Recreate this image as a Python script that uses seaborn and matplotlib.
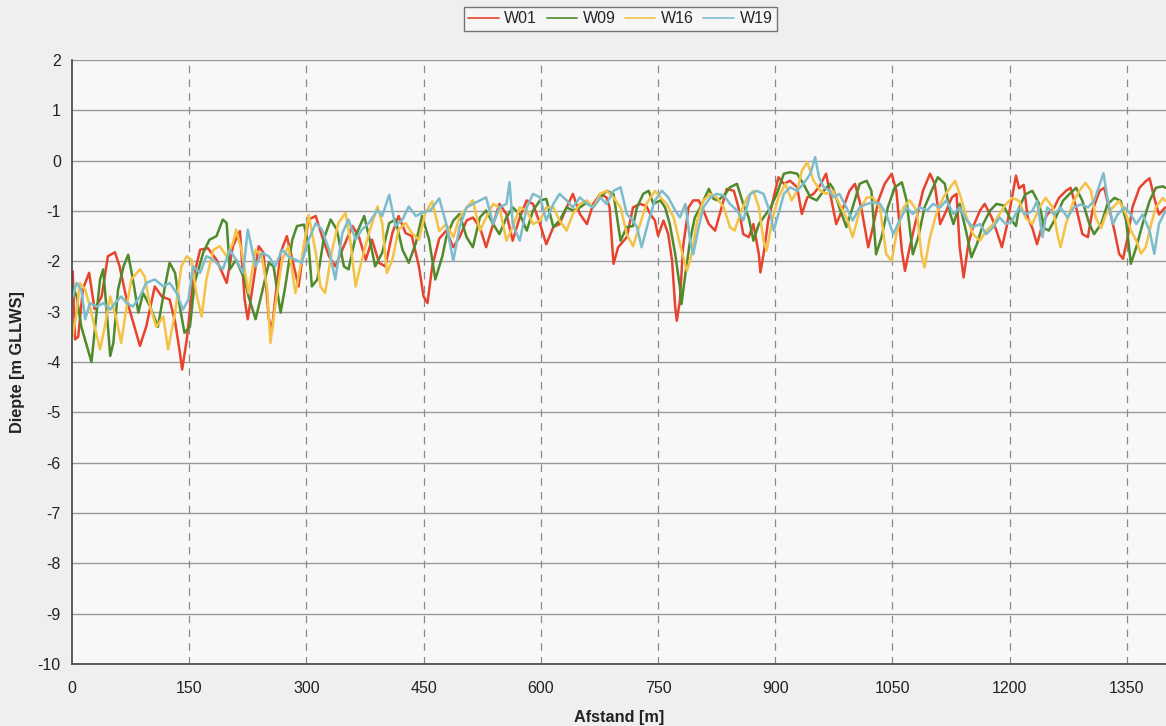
import matplotlib
matplotlib.use("Agg")
import matplotlib.pyplot as plt
import seaborn as sns
import pandas as pd

# ---- data ----
W01_x = [1,4,8,14,22,29,38,46,55,61,70,80,87,95,106,115,125,132,138,141,147,155,164,174,185,198,206,215,221,225,
         239,245,252,256,260,267,275,284,290,297,303,312,320,329,337,346,359,367,376,384,393,401,410,418,427,435,444,450,455,461,470,
         479,488,496,505,513,522,530,539,547,556,564,573,582,590,599,607,616,624,633,641,650,659,667,676,684,688,693,699,710,
         718,727,735,740,746,750,757,763,768,772,774,778,782,789,795,802,808,815,823,829,838,847,853,859,866,872,879,881,885,891,898,904,911,919,928,934,941,949,
         957,965,972,978,987,995,1002,1010,1019,1025,1032,1040,1049,1055,1062,1066,1072,1081,1089,1098,1104,1111,1117,1126,1132,1136,1141,1147,1153,1162,1168,1177,1183,1190,1196,1203,1208,
         1212,1218,1223,1229,1235,1242,1248,1257,1263,1272,1278,1285,1293,1300,1306,1315,1321,1327,1334,1340,1345,1351,1357,1366,1374,1379,1385,1391,1399]
W01_y = [-2.2,-3.55,-3.5,-2.55,-2.23,-2.95,-2.7,-1.9,-1.82,-2.1,-2.76,-3.3,-3.68,-3.3,-2.5,-2.7,-2.76,-3.2,-3.8,-4.15,-3.55,-2.36,-1.77,-1.74,-1.97,-2.43,-1.7,-1.4,-2.76,-3.15,
         -1.7,-1.83,-3.15,-3.35,-2.76,-1.83,-1.5,-2.1,-2.5,-1.7,-1.17,-1.1,-1.5,-1.9,-2.1,-1.77,-1.3,-1.5,-1.97,-1.57,-2.03,-2.1,-1.44,-1.1,-1.44,-1.5,-2.1,-2.7,-2.83,-2.1,-1.55,
         -1.39,-1.72,-1.52,-1.19,-1.13,-1.32,-1.72,-1.26,-0.86,-1.06,-1.59,-1.13,-0.79,-0.86,-1.26,-1.66,-1.32,-1.26,-0.93,-0.66,-1.06,-1.26,-0.86,-0.66,-0.73,-0.93,-2.05,-1.72,-1.52,
         -0.93,-0.86,-0.9,-1.06,-1.19,-1.49,-1.19,-1.46,-1.99,-2.92,-3.18,-2.78,-1.72,-0.93,-0.79,-0.79,-0.99,-1.26,-1.39,-1.06,-0.56,-0.6,-0.93,-1.46,-1.52,-1.26,-1.86,-2.22,-1.86,-1.19,-0.73,-0.33,-0.46,-0.4,-0.53,-1.06,-0.73,-0.66,
         -0.5,-0.26,-0.79,-1.26,-0.93,-0.6,-0.46,-0.93,-1.72,-1.32,-0.79,-0.46,-0.26,-0.6,-1.79,-2.19,-1.72,-1.13,-0.6,-0.26,-0.46,-1.26,-1.06,-0.73,-0.66,-1.72,-2.32,-1.66,-1.32,-0.99,-0.86,-1.13,-1.39,-1.72,-1.32,-0.73,-0.3,
         -0.55,-0.48,-1.13,-1.34,-1.66,-1.26,-1.07,-0.93,-0.74,-0.6,-0.54,-0.93,-1.46,-1.52,-0.99,-0.6,-0.54,-0.93,-1.39,-1.85,-1.95,-1.52,-0.93,-0.54,-0.41,-0.35,-0.74,-1.07,-0.93]

W09_x = [1,6,12,19,25,29,36,40,44,49,53,59,66,72,78,85,91,100,110,119,125,132,138,144,151,157,168,176,185,193,198,202,210,221,
         226,235,243,252,258,267,273,282,288,297,303,307,314,322,331,339,348,354,363,374,382,388,397,406,414,423,431,440,448,457,465,474,
         479,488,496,505,513,522,530,539,547,556,564,573,582,590,599,607,616,624,633,641,650,659,667,676,684,693,702,710,
         718,723,731,738,744,753,759,765,772,778,780,785,791,797,804,810,815,821,827,836,842,851,859,866,872,879,885,894,902,911,919,928,936,945,953,
         962,970,974,982,991,999,1008,1017,1023,1029,1036,1044,1053,1062,1068,1076,1083,1091,1100,1108,1117,1124,1128,1136,1145,1151,1158,1166,1175,1183,
         1192,1200,1208,1212,1220,1229,1238,1244,1250,1259,1268,1276,1285,1293,1302,1308,1317,1325,1334,1342,1349,1355,1362,1370,1379,1387,1396,1399]
W09_y = [-2.5,-2.7,-3.3,-3.68,-4.0,-3.4,-2.36,-2.16,-2.9,-3.88,-3.62,-2.56,-2.1,-1.87,-2.36,-3.02,-2.63,-2.9,-3.3,-2.5,-2.03,-2.23,-2.9,-3.42,-3.3,-2.43,-1.83,-1.57,-1.5,-1.17,-1.24,-2.16,-1.97,-2.36,
         -2.7,-3.15,-2.63,-2.03,-2.1,-3.02,-2.5,-1.57,-1.3,-1.27,-1.7,-2.5,-2.36,-1.57,-1.17,-1.37,-2.1,-2.16,-1.5,-1.1,-1.64,-2.1,-1.83,-1.24,-1.17,-1.77,-2.03,-1.64,-1.1,-1.57,-2.36,-1.9,
         -1.52,-1.19,-1.06,-1.52,-1.72,-1.13,-0.99,-1.26,-1.46,-1.13,-0.93,-1.06,-1.39,-0.99,-0.79,-0.76,-1.32,-1.19,-0.93,-0.99,-0.93,-0.83,-0.93,-0.73,-0.6,-0.66,-1.59,-1.32,
         -1.3,-0.93,-0.66,-0.6,-0.86,-0.79,-0.93,-1.26,-1.86,-2.52,-2.85,-2.25,-1.59,-1.13,-0.93,-0.73,-0.56,-0.76,-0.79,-0.66,-0.53,-0.46,-0.86,-1.13,-1.59,-1.26,-1.13,-0.93,-0.66,-0.26,-0.23,-0.26,-0.46,-0.73,-0.79,
         -0.6,-0.46,-0.55,-0.93,-1.32,-0.93,-0.46,-0.4,-0.6,-1.86,-1.52,-0.93,-0.53,-0.43,-0.79,-1.86,-1.52,-0.93,-0.6,-0.33,-0.46,-1.06,-1.26,-0.86,-1.46,-1.92,-1.66,-1.26,-0.99,-0.86,
         -0.89,-1.13,-1.3,-0.93,-0.67,-0.6,-0.87,-1.34,-1.39,-1.13,-0.8,-0.67,-0.54,-0.8,-1.26,-1.46,-1.26,-0.87,-0.74,-0.8,-1.2,-2.05,-1.72,-1.26,-0.8,-0.54,-0.51,-0.54]

W16_x = [1,6,10,17,23,29,36,42,49,57,63,70,76,87,93,100,108,117,123,132,140,147,153,159,166,172,181,189,198,206,210,217,
         226,235,243,250,254,260,269,277,286,294,303,312,318,324,333,341,350,356,363,371,380,391,397,403,410,418,427,435,444,452,461,470,
         479,488,496,505,513,522,530,539,547,556,564,573,582,590,599,607,616,624,633,641,650,659,667,676,684,693,702,710,
         718,727,735,746,753,761,770,778,787,793,800,808,817,825,834,842,848,855,864,872,879,885,889,896,904,913,921,928,934,941,949,958,
         965,974,982,991,999,1008,1017,1025,1034,1042,1049,1055,1064,1072,1081,1087,1091,1098,1106,1115,1124,1130,1136,1145,1153,1162,1170,1179,1187,
         1195,1203,1212,1220,1229,1238,1246,1255,1261,1265,1272,1280,1289,1297,1304,1310,1317,1323,1332,1340,1349,1355,1362,1368,1374,1381,1387,1396,1399]
W16_y = [-3.48,-3.02,-2.43,-2.56,-2.9,-3.3,-3.75,-3.3,-2.7,-3.15,-3.62,-2.9,-2.36,-2.16,-2.3,-2.9,-3.3,-3.1,-3.75,-3.02,-2.1,-1.9,-1.97,-2.63,-3.1,-2.36,-1.77,-1.7,-1.9,-1.64,-1.37,-1.77,
         -2.63,-1.77,-1.9,-2.56,-3.62,-2.9,-1.97,-1.7,-2.63,-1.97,-1.08,-1.83,-2.5,-2.63,-1.77,-1.24,-1.04,-1.57,-2.5,-1.97,-1.44,-0.91,-1.24,-2.23,-1.97,-1.37,-1.24,-1.44,-1.57,-1.04,-0.81,-1.4,
         -1.26,-1.52,-1.13,-0.93,-0.79,-1.39,-1.13,-0.86,-0.93,-1.59,-1.32,-0.93,-0.99,-1.26,-1.19,-0.93,-0.93,-1.19,-1.39,-1.06,-0.86,-0.79,-0.93,-0.66,-0.6,-0.73,-0.93,-1.46,
         -1.7,-1.26,-0.86,-0.6,-0.73,-0.86,-1.13,-1.66,-2.19,-1.86,-1.19,-0.79,-0.66,-0.73,-0.93,-1.32,-1.39,-1.06,-0.73,-0.6,-0.93,-1.59,-1.79,-1.19,-0.73,-0.46,-0.79,-0.6,-0.2,-0.03,-0.4,-0.6,
         -0.66,-0.6,-0.86,-1.13,-1.52,-0.99,-0.73,-0.73,-0.93,-1.86,-1.99,-1.46,-0.93,-0.79,-0.99,-1.86,-2.12,-1.52,-1.06,-0.73,-0.53,-0.4,-0.66,-1.13,-1.46,-1.59,-1.39,-1.26,-1.06,
         -0.87,-0.74,-0.8,-1.13,-1.26,-0.93,-0.74,-0.93,-1.46,-1.72,-1.26,-0.87,-0.6,-0.44,-0.6,-1.13,-1.34,-1.07,-0.93,-0.8,-1.07,-1.39,-1.59,-1.85,-1.72,-1.26,-0.93,-0.74,-0.8]

W19_x = [1,6,12,17,23,32,40,49,55,63,70,78,87,95,106,117,125,134,142,149,155,164,172,181,193,202,210,219,225,
         235,243,252,260,269,277,286,294,303,312,320,329,337,346,354,363,371,380,391,397,406,414,423,431,440,448,459,470,
         479,488,496,505,513,522,530,539,547,556,560,564,573,582,590,599,607,616,624,633,641,650,659,667,676,684,693,702,710,
         718,723,729,738,746,755,763,772,778,785,791,795,802,808,817,825,834,842,851,859,868,876,885,894,898,904,911,919,928,936,945,951,956,962,
         970,974,982,991,999,1008,1017,1025,1034,1042,1051,1059,1068,1076,1085,1094,1102,1111,1119,1128,1136,1145,1153,1162,1170,1179,1187,
         1195,1203,1212,1220,1229,1235,1242,1248,1257,1265,1274,1282,1291,1300,1308,1315,1320,1325,1332,1338,1347,1355,1362,1370,1379,1385,1391,1399]
W19_y = [-2.7,-2.43,-2.56,-3.15,-2.83,-2.9,-2.83,-2.96,-2.83,-2.7,-2.83,-2.9,-2.7,-2.43,-2.36,-2.5,-2.43,-2.63,-2.96,-2.76,-2.1,-2.23,-1.9,-1.97,-2.16,-1.77,-1.97,-2.23,-1.37,
         -2.1,-1.83,-1.9,-2.1,-1.77,-1.9,-1.97,-2.03,-1.57,-1.24,-1.37,-1.77,-2.36,-1.44,-1.17,-1.57,-1.37,-1.24,-0.98,-1.1,-0.68,-1.3,-1.17,-0.91,-1.1,-1.04,-0.98,-0.75,
         -1.26,-1.99,-1.32,-0.93,-0.86,-0.79,-0.73,-1.26,-0.93,-0.86,-0.43,-1.26,-1.59,-0.93,-0.66,-0.73,-1.19,-0.86,-0.66,-0.79,-0.93,-0.73,-0.86,-0.93,-0.73,-0.86,-0.6,-0.53,-1.06,
         -1.19,-1.32,-1.72,-1.19,-0.79,-0.6,-0.73,-0.99,-1.13,-0.86,-1.59,-1.86,-1.32,-0.93,-0.73,-0.66,-0.69,-0.86,-0.99,-1.19,-0.66,-0.6,-0.66,-1.06,-1.39,-1.06,-0.66,-0.53,-0.6,-0.46,-0.26,0.07,-0.33,-0.53,
         -0.6,-0.73,-0.66,-0.93,-1.19,-0.93,-0.86,-0.83,-0.86,-1.06,-1.46,-1.19,-0.93,-1.06,-0.93,-0.99,-0.86,-0.93,-0.79,-1.06,-0.93,-1.19,-1.32,-1.26,-1.46,-1.32,-1.13,
         -1.26,-1.2,-0.93,-1.07,-1.0,-0.8,-1.52,-0.93,-1.07,-0.93,-1.13,-0.93,-0.87,-0.93,-0.8,-0.48,-0.25,-0.74,-1.26,-1.07,-0.93,-1.07,-1.26,-1.07,-1.39,-1.85,-1.26,-1.0]

series_names = ["W01", "W09", "W16", "W19"]
colors = ["#e8432e", "#4f8a2b", "#f4c244", "#7dbccb"]
x_ticks = [0, 150, 300, 450, 600, 750, 900, 1050, 1200, 1350]
y_ticks = list(range(-10, 3))

frames = []
for name, xs, ys in zip(series_names, [W01_x, W09_x, W16_x, W19_x], [W01_y, W09_y, W16_y, W19_y]):
    frames.append(pd.DataFrame({"Afstand": xs, "Diepte": ys, "Serie": name}))
df = pd.concat(frames, ignore_index=True)

sns.set_theme(style="white")
plt.rcParams['font.family'] = ['Liberation Sans', 'DejaVu Sans']

fig = plt.figure(figsize=(11.66, 7.26), dpi=100, facecolor="#efefef")
ax = fig.add_axes([0.0617, 0.0854, 0.9383, 0.832])
ax.set_facecolor("#f8f8f8")

sns.lineplot(data=df, x="Afstand", y="Diepte", hue="Serie", hue_order=series_names,
             palette=colors, linewidth=1.8, sort=True, estimator=None, ax=ax, legend=True)

ax.set_xlim(0, 1400)
ax.set_ylim(-10, 2)
ax.set_xticks(x_ticks)
ax.set_yticks(y_ticks)
ax.set_xticklabels([str(t) for t in x_ticks], fontsize=11.5, color="#222222")
ax.set_yticklabels([str(t) for t in y_ticks], fontsize=11.5, color="#222222")

for y in y_ticks:
    ax.axhline(y, color="#9a9a9a", linewidth=1.0, zorder=0)
for x in x_ticks[1:]:
    ax.axvline(x, color="#8a8a8a", linewidth=0.9, linestyle=(0, (6, 5)), zorder=0)

for side in ["top", "right"]:
    ax.spines[side].set_visible(False)
for side in ["left", "bottom"]:
    ax.spines[side].set_color("#444444")
    ax.spines[side].set_linewidth(1.2)
ax.tick_params(axis="x", direction="out", length=5, width=1, color="#444444", pad=7)
ax.tick_params(axis="y", direction="out", length=5, width=1, color="#444444", pad=3)

ax.set_xlabel("Afstand [m]", fontsize=11.7, fontweight="bold", color="#222222", labelpad=10)
ax.set_ylabel("Diepte [m GLLWS]", fontsize=11.7, fontweight="bold", color="#222222", labelpad=9)

handles, labels = ax.get_legend_handles_labels()
ax.get_legend().remove()
leg = fig.legend(handles, labels, loc="center", bbox_to_anchor=(0.532, 0.974), ncol=4,
                 frameon=True, fancybox=False, edgecolor="#555555", fontsize=11.5,
                 handlelength=1.9, handletextpad=0.35, columnspacing=0.6,
                 borderpad=0.3)
leg.get_frame().set_linewidth(1.0)
leg.get_frame().set_facecolor("#f8f8f8")
for line in leg.get_lines():
    line.set_linewidth(1.2)

fig.savefig("out.png", dpi=100, facecolor=fig.get_facecolor())
